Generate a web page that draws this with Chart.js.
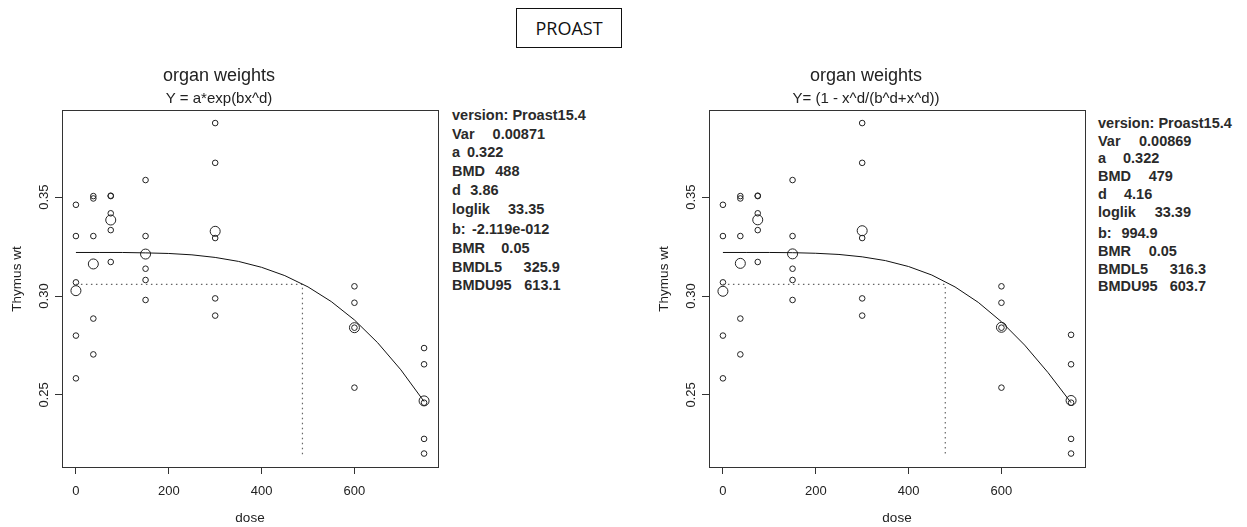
<!DOCTYPE html>
<html>
<head>
<meta charset="utf-8">
<title>PROAST organ weights</title>
<script src="https://cdn.jsdelivr.net/npm/chart.js@4.4.1/dist/chart.umd.min.js"></script>
<style>
    html, body { margin: 0; padding: 0; background: #fff; }
    body {
        width: 1247px; height: 527px; position: relative; overflow: hidden;
        font-family: "Liberation Sans", Arial, sans-serif; color: #222;
    }
    .plot { position: absolute; top: 0; width: 450px; height: 527px; }
    #proast {
        position: absolute; left: 516px; top: 8px; width: 104px; height: 38px;
        border: 1.5px solid #111; text-align: center; line-height: 38px;
        font-family: "Open Sans", sans-serif; font-size: 18px; color: #111;
    }
    .stats { position: absolute; top: 0; font-weight: bold; font-size: 14.5px; color: #2a2a2a; }
    .stats div { position: absolute; left: 0; height: 18px; line-height: 18px; white-space: nowrap; }
    .stats span.v { position: absolute; top: 0; }
</style>
</head>
<body>
<div id="proast">PROAST</div>
<canvas id="plotLeft" class="plot" width="450" height="527" style="left:0px"></canvas>
<canvas id="plotRight" class="plot" width="450" height="527" style="left:647px"></canvas>
<div id="statsLeft" class="stats" style="left:452px"></div>
<div id="statsRight" class="stats" style="left:1098px"></div>

<script>
// ---------------------------------------------------------------------------
// Data (read off the PROAST output)
// ---------------------------------------------------------------------------

const doseGroups = [0, 37.5, 75, 150, 300, 600, 750];

const doseObs = [
    0, 0, 0, 0, 0,
    37.5, 37.5, 37.5, 37.5, 37.5,
    75, 75, 75, 75, 75,
    150, 150, 150, 150, 150,
    300, 300, 300, 300, 300,
    600, 600, 600, 600,
    750, 750, 750, 750, 750
];

const thymusLeft = [
    0.3461, 0.3303, 0.3069, 0.2800, 0.2584,
    0.3505, 0.3493, 0.3303, 0.2886, 0.2705,
    0.3507, 0.3505, 0.3418, 0.3333, 0.3172,
    0.3586, 0.3303, 0.3138, 0.3081, 0.2980,
    0.3874, 0.3673, 0.3293, 0.2988, 0.2901,
    0.3049, 0.2966, 0.2840, 0.2537,
    0.2737, 0.2655, 0.2461, 0.2278, 0.2204
];

const thymusRight = [
    0.3461, 0.3303, 0.3069, 0.2800, 0.2584,
    0.3505, 0.3493, 0.3303, 0.2886, 0.2705,
    0.3507, 0.3505, 0.3418, 0.3333, 0.3172,
    0.3586, 0.3303, 0.3138, 0.3081, 0.2980,
    0.3874, 0.3673, 0.3293, 0.2988, 0.2901,
    0.3049, 0.2966, 0.2840, 0.2537,
    0.2804, 0.2655, 0.2461, 0.2278, 0.2204
];

// group means (large circles)
const meansLeft  = [0.3027, 0.3162, 0.3384, 0.3212, 0.3327, 0.2840, 0.2470];
const meansRight = [0.3024, 0.3165, 0.3385, 0.3213, 0.3330, 0.2842, 0.2472];

// fitted curves
const curveDose  = [0, 50, 100, 150, 200, 250, 300, 350, 400, 450, 500, 550, 600, 650, 700, 750];
const curveLeft  = [0.3220, 0.3220, 0.3220, 0.3218, 0.3215, 0.3208, 0.3195, 0.3175, 0.3145, 0.3103,
                    0.3046, 0.2972, 0.2879, 0.2764, 0.2627, 0.2467];
const curveRight = [0.3220, 0.3220, 0.3220, 0.3219, 0.3216, 0.3210, 0.3198, 0.3179, 0.3149, 0.3106,
                    0.3046, 0.2968, 0.2870, 0.2752, 0.2614, 0.2461];

// BMD guide lines (dotted)
const guideXLeft  = [0, 488, 488];
const guideYLeft  = [0.3059, 0.3059, 0.2200];
const guideXRight = [0, 479, 479];
const guideYRight = [0.3059, 0.3059, 0.2200];

const xTicks = [0, 200, 400, 600];
const yTicks = [0.25, 0.30, 0.35];
const yTickLabels = ['0.25', '0.30', '0.35'];

const statLabels       = ['version: Proast15.4', 'Var', 'a', 'BMD', 'd', 'loglik', 'b:', 'BMR', 'BMDL5', 'BMDU95'];
const statValuesLeft   = ['', '0.00871', '0.322', '488', '3.86', '33.35', '-2.119e-012', '0.05', '325.9', '613.1'];
const statValuesRight  = ['', '0.00869', '0.322', '479', '4.16', '33.39', '994.9', '0.05', '316.3', '603.7'];

// ---------------------------------------------------------------------------
// Text panels (layout only)
// ---------------------------------------------------------------------------

function fillStats(el, values, lineY, valueX) {
    statLabels.forEach((lab, i) => {
        const row = document.createElement('div');
        row.style.top = (lineY[i] - 9) + 'px';
        row.textContent = lab;
        if (values[i]) {
            const v = document.createElement('span');
            v.className = 'v';
            v.style.left = valueX[i] + 'px';
            v.textContent = values[i];
            row.appendChild(v);
        }
        el.appendChild(row);
    });
}

fillStats(document.getElementById('statsLeft'), statValuesLeft,
    [115, 133.5, 152, 171, 190, 208.7, 229.3, 248.3, 266.7, 285],
    [0, 40.6, 15, 43.3, 18.3, 56, 20, 49.3, 71.6, 72.3]);

fillStats(document.getElementById('statsRight'), statValuesRight,
    [122.7, 140.7, 158.3, 176, 194.3, 212.3, 233.3, 251, 269, 286],
    [0, 41, 25, 50.7, 26, 56.7, 23.4, 50.7, 71.7, 71.7]);

// ---------------------------------------------------------------------------
// Charts
// ---------------------------------------------------------------------------

const FONT = '"Liberation Sans", Arial, sans-serif';
const INK = '#222';

// R-style frame, rotated y tick labels and y axis title
const rFrame = {
    id: 'rFrame',
    afterDraw(chart) {
        const { ctx, chartArea: a } = chart;
        const ys = chart.scales.y;
        ctx.save();
        ctx.strokeStyle = '#333';
        ctx.lineWidth = 1;
        ctx.strokeRect(a.left + 0.5, a.top + 0.5, a.right - a.left, a.bottom - a.top);

        ctx.fillStyle = INK;
        ctx.textAlign = 'center';
        ctx.textBaseline = 'middle';
        ctx.font = '13px ' + FONT;
        yTicks.forEach((v, i) => {
            ctx.save();
            ctx.translate(a.left - 18, ys.getPixelForValue(v));
            ctx.rotate(-Math.PI / 2);
            ctx.fillText(yTickLabels[i], 0, 0);
            ctx.restore();
        });

        ctx.font = '13.5px ' + FONT;
        ctx.translate(a.left - 45, 279);
        ctx.rotate(-Math.PI / 2);
        ctx.fillText('Thymus wt', 0, 0);
        ctx.restore();
    }
};

function drawPlot(canvasId, subtitle, obsY, meansY, curveY, guideX, guideY) {
    const ctx = document.getElementById(canvasId);

    new Chart(ctx, {
        type: 'scatter',
        data: {
            datasets: [
                {
                    label: 'fit',
                    data: curveDose.map((x, i) => ({ x: x, y: curveY[i] })),
                    showLine: true,
                    borderColor: '#111',
                    borderWidth: 1,
                    pointRadius: 0,
                    tension: 0
                },
                {
                    label: 'bmd',
                    data: guideX.map((x, i) => ({ x: x, y: guideY[i] })),
                    showLine: true,
                    borderColor: '#666',
                    borderWidth: 1.2,
                    borderDash: [1.5, 3.5],
                    pointRadius: 0
                },
                {
                    label: 'observations',
                    data: doseObs.map((x, i) => ({ x: x, y: obsY[i] })),
                    pointRadius: 2.8,
                    pointBorderWidth: 1,
                    borderColor: INK,
                    backgroundColor: 'rgba(0,0,0,0)'
                },
                {
                    label: 'means',
                    data: doseGroups.map((x, i) => ({ x: x, y: meansY[i] })),
                    pointRadius: 5,
                    pointBorderWidth: 1,
                    borderColor: INK,
                    backgroundColor: 'rgba(0,0,0,0)'
                }
            ]
        },
        options: {
            responsive: false,
            animation: false,
            devicePixelRatio: 1,
            layout: { padding: { top: 60, right: 12, left: 0, bottom: 0 } },
            plugins: {
                legend: { display: false },
                tooltip: { enabled: false },
                title: {
                    display: true,
                    text: 'organ weights',
                    color: INK,
                    font: { family: FONT, size: 18, weight: 'normal' },
                    padding: { top: 5.2, bottom: 2.7 }
                },
                subtitle: {
                    display: true,
                    text: subtitle,
                    color: INK,
                    font: { family: FONT, size: 15, weight: 'normal' },
                    padding: { top: 0, bottom: 2.5 }
                }
            },
            scales: {
                x: {
                    type: 'linear',
                    min: -30,
                    max: 780,
                    afterBuildTicks: s => { s.ticks = xTicks.map(v => ({ value: v })); },
                    afterFit: s => { s.height = 60; },
                    border: { display: false },
                    grid: { drawOnChartArea: false, drawTicks: true, tickLength: 7, color: '#333' },
                    ticks: {
                        color: INK,
                        font: { family: FONT, size: 13 },
                        padding: 10,
                        maxRotation: 0,
                        autoSkip: false
                    },
                    title: {
                        display: true,
                        text: 'dose',
                        color: INK,
                        font: { family: FONT, size: 13.5 },
                        padding: { top: 0, bottom: 0.5 }
                    }
                },
                y: {
                    type: 'linear',
                    min: 0.2136,
                    max: 0.3940,
                    afterBuildTicks: s => { s.ticks = yTicks.map(v => ({ value: v })); },
                    afterFit: s => { s.width = 62; },
                    border: { display: false },
                    grid: { drawOnChartArea: false, drawTicks: true, tickLength: 7, color: '#333' },
                    ticks: { color: 'rgba(0,0,0,0)', font: { family: FONT, size: 13 } }
                }
            }
        },
        plugins: [rFrame]
    });
}

drawPlot('plotLeft', 'Y = a*exp(bx^d)', thymusLeft, meansLeft, curveLeft, guideXLeft, guideYLeft);
drawPlot('plotRight', 'Y= (1 - x^d/(b^d+x^d))', thymusRight, meansRight, curveRight, guideXRight, guideYRight);
</script>
</body>
</html>
